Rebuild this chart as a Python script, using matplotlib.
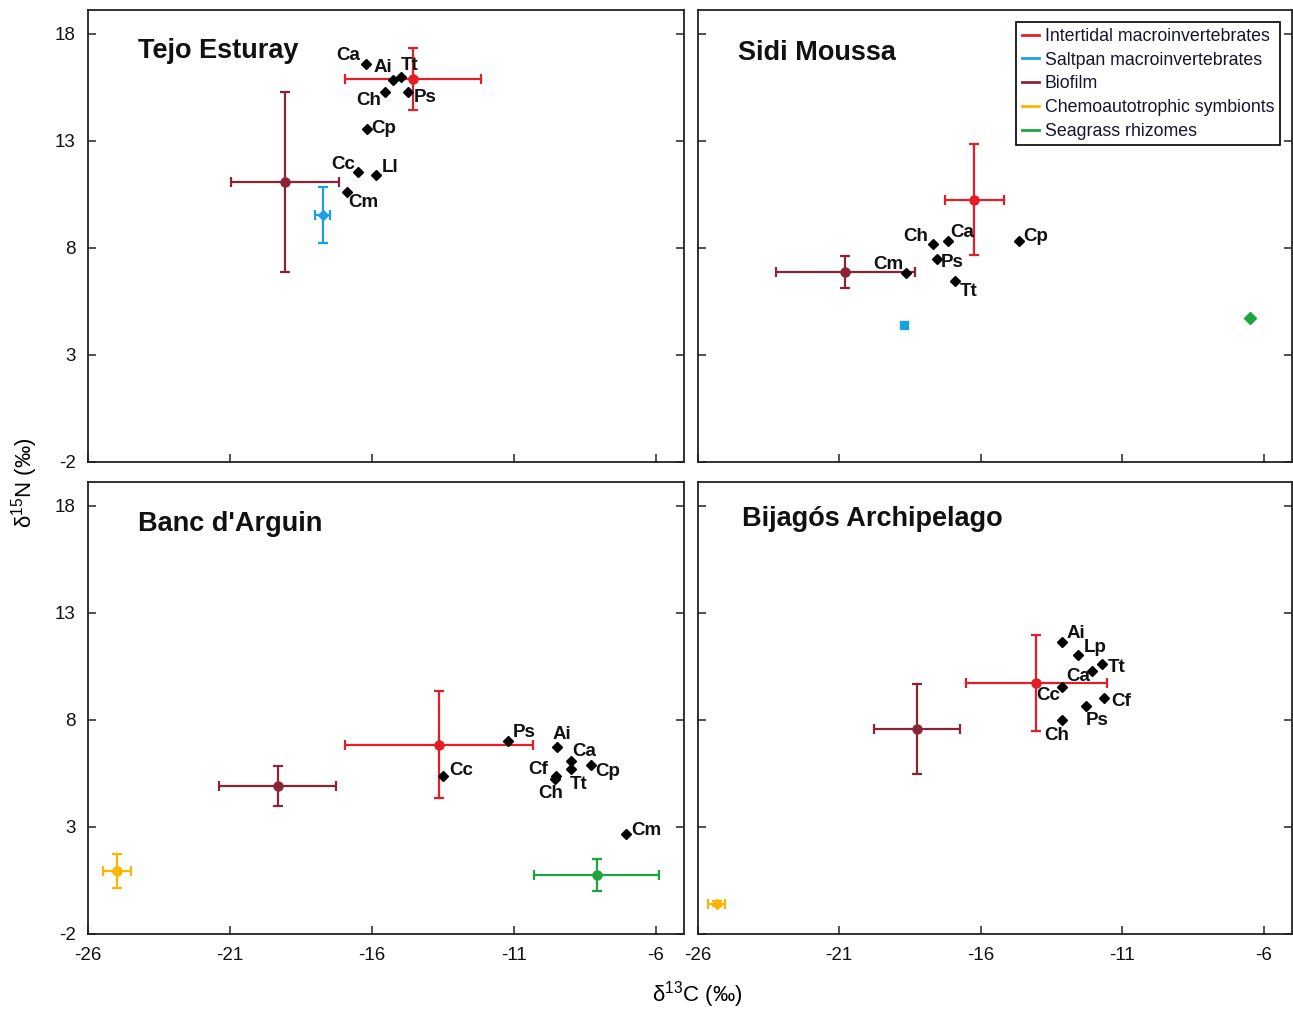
import matplotlib
matplotlib.use('Agg')
import matplotlib.pyplot as plt
import numpy as np
from matplotlib.lines import Line2D

plt.rcParams['font.family'] = ['Liberation Sans', 'DejaVu Sans']
plt.rcParams['mathtext.fontset'] = 'custom'
plt.rcParams['mathtext.rm'] = 'Liberation Sans'
plt.rcParams['mathtext.it'] = 'Liberation Sans:italic'
plt.rcParams['mathtext.bf'] = 'Liberation Sans:bold'

# ---------------- data ----------------
groups = ['Intertidal macroinvertebrates', 'Saltpan macroinvertebrates', 'Biofilm',
          'Chemoautotrophic symbionts', 'Seagrass rhizomes']
group_colors = ['#e41e26', '#1ba1e2', '#8b2535', '#ffb400', '#1ea43c']

sites = ['Tejo Esturay', 'Sidi Moussa', "Banc d'Arguin", 'Bijagós Archipelago']

# group means and SD (nan = absent) in order of `groups`
tejo_gc = [-14.55, -17.73, -19.07, np.nan, np.nan]
tejo_gc_sd = [2.4, 0.27, 1.9, 0, 0]
tejo_gn = [15.88, 9.54, 11.08, np.nan, np.nan]
tejo_gn_sd = [1.45, 1.3, 4.2, 0, 0]

sidi_gc = [-16.22, -18.72, -20.78, np.nan, -6.48]
sidi_gc_sd = [1.03, 0, 2.47, 0, 0]
sidi_gn = [10.24, 4.39, 6.85, np.nan, 4.73]
sidi_gn_sd = [2.6, 0, 0.75, 0, 0]

banc_gc = [-13.63, np.nan, -19.32, -24.98, -8.08]
banc_gc_sd = [3.3, 0, 2.07, 0.5, 2.2]
banc_gn = [6.83, np.nan, 4.92, 0.94, 0.76]
banc_gn_sd = [2.5, 0, 0.93, 0.8, 0.75]

bija_gc = [-14.03, np.nan, -18.26, -25.32, np.nan]
bija_gc_sd = [2.48, 0, 1.52, 0.3, 0]
bija_gn = [9.73, np.nan, 7.58, -0.59, np.nan]
bija_gn_sd = [2.25, 0, 2.1, 0.12, 0]

# species (black diamonds)
tejo_sp = ['Ca', 'Ai', 'Tt', 'Ch', 'Ps', 'Cp', 'Cc', 'Ll', 'Cm']
tejo_c = [-16.19, -15.27, -14.98, -15.52, -14.73, -16.17, -16.49, -15.86, -16.86]
tejo_n = [16.58, 15.84, 15.99, 15.26, 15.26, 13.56, 11.52, 11.41, 10.62]

sidi_sp = ['Ch', 'Ca', 'Cp', 'Ps', 'Cm', 'Tt']
sidi_c = [-17.70, -17.16, -14.63, -17.55, -18.63, -16.90]
sidi_n = [8.17, 8.33, 8.33, 7.47, 6.80, 6.46]

banc_sp = ['Ps', 'Cc', 'Ai', 'Ca', 'Tt', 'Cp', 'Cf', 'Ch', 'Cm']
banc_c = [-11.21, -13.48, -9.49, -8.97, -8.97, -8.27, -9.52, -9.56, -7.05]
banc_n = [7.00, 5.38, 6.74, 6.08, 5.72, 5.91, 5.38, 5.22, 2.69]

bija_sp = ['Ai', 'Lp', 'Tt', 'Ca', 'Cc', 'Cf', 'Ps', 'Ch']
bija_c = [-13.14, -12.57, -11.71, -12.07, -13.13, -11.63, -12.28, -13.13]
bija_n = [11.64, 11.02, 10.60, 10.28, 9.54, 9.04, 8.64, 8.01]

x_ticks = [-26, -21, -16, -11, -6]
y_ticks = [-2, 3, 8, 13, 18]

# ---------------- styling / layout ----------------
# label offsets in pixels (dx right, dy down)
tejo_off = [(-18, -8), (-10, -12), (9, -11), (-17, 8), (17, 5), (17, 0), (-15, -8), (14, -7), (16, 11)]
sidi_off = [(-17, -8), (14, -8), (16, -4), (15, 3), (-18, -9), (13, 11)]
banc_off = [(16, -9), (18, -5), (5, -12), (13, -9), (7, 16), (16, 7), (-18, -6), (-4, 14), (20, -3)]
bija_off = [(14, -8), (17, -8), (15, 3), (-14, 6), (-14, 9), (17, 4), (11, 14), (-5, 16)]

site_markers = [
    ['o', 'D', 'o', 'o', 'o'],
    ['o', 's', 'o', 'o', 'D'],
    ['o', 'o', 'o', 'o', 'o'],
    ['o', 'o', 'o', 'D', 'o'],
]
title_pos = [(0.084, 0.91), (0.068, 0.905), (0.084, 0.907), (0.075, 0.918)]

W, H = 1293, 1010
fig = plt.figure(figsize=(W / 100, H / 100), dpi=100)
rects = [
    (88 / W, 1 - 462 / H, 596 / W, 452 / H),
    (697.7 / W, 1 - 462 / H, 594.3 / W, 452 / H),
    (88 / W, 1 - 934 / H, 596 / W, 452 / H),
    (697.7 / W, 1 - 934 / H, 594.3 / W, 452 / H),
]

site_groups = [
    (tejo_gc, tejo_gc_sd, tejo_gn, tejo_gn_sd, tejo_sp, tejo_c, tejo_n, tejo_off),
    (sidi_gc, sidi_gc_sd, sidi_gn, sidi_gn_sd, sidi_sp, sidi_c, sidi_n, sidi_off),
    (banc_gc, banc_gc_sd, banc_gn, banc_gn_sd, banc_sp, banc_c, banc_n, banc_off),
    (bija_gc, bija_gc_sd, bija_gn, bija_gn_sd, bija_sp, bija_c, bija_n, bija_off),
]

axes = []
for i, (rect, site) in enumerate(zip(rects, sites)):
    ax = fig.add_axes(rect)
    axes.append(ax)
    gc, gcs, gn, gns, sp, sc, sn, off = site_groups[i]
    ax.set_xlim(-26, -5)
    ax.set_ylim(-2, 19.1)
    for g in range(len(groups)):
        if np.isnan(gc[g]):
            continue
        col = group_colors[g]
        mk = site_markers[i][g]
        if gcs[g] == 0 and gns[g] == 0:
            ax.plot(gc[g], gn[g], marker=mk, color=col, ms=6, ls='none', zorder=3)
        else:
            ax.errorbar(gc[g], gn[g], xerr=gcs[g], yerr=gns[g], fmt=mk, color=col,
                        ms=6.5 if mk == 'o' else 5.5, elinewidth=1.6, capsize=3.8,
                        capthick=1.6, zorder=3)
    ax.plot(sc, sn, ls='none', marker='D', ms=5, color='black', zorder=4)
    for name, x, y, (dx, dy) in zip(sp, sc, sn, off):
        ax.annotate(name, (x, y), xytext=(dx, -dy), textcoords='offset pixels',
                    ha='center', va='center', fontsize=13.5, fontweight='bold',
                    color='#111111', zorder=5)
    tx, ty = title_pos[i]
    ax.text(tx, ty, site, transform=ax.transAxes, fontsize=19.5, fontweight='bold',
            ha='left', va='center', color='#111111')

    ax.set_xticks(x_ticks)
    ax.set_yticks(y_ticks)
    ax.tick_params(direction='in', length=6, width=1.1, left=True, right=True,
                   bottom=True, top=False, colors='#222222', pad=9)
    for s in ax.spines.values():
        s.set_linewidth(1.3)
        s.set_color('#222222')
    if i in (0, 2):
        ax.set_yticklabels([str(t) for t in y_ticks], fontsize=13.5, color='#111111')
    else:
        ax.set_yticklabels([])
    if i in (2, 3):
        ax.set_xticklabels([str(t) for t in x_ticks], fontsize=13.5, color='#111111')
    else:
        ax.set_xticklabels([])

handles = [Line2D([], [], color=c, lw=2) for c in group_colors]
leg = axes[1].legend(handles, groups, loc='upper right', fontsize=12.8, frameon=True,
                     fancybox=False, framealpha=1, edgecolor='black',
                     handlelength=0.95, handletextpad=0.35, labelspacing=0.38,
                     borderpad=0.3, borderaxespad=0.7)
leg.get_frame().set_linewidth(1.2)
for t in leg.get_texts():
    t.set_color('#151530')

fig.text(697 / W, 1 - 995 / H, r'$\mathregular{\delta^{13}C\ (‰)}$', ha='center', va='center',
         fontsize=16)
fig.text(25 / W, 1 - 483 / H, r'$\mathregular{\delta^{15}N\ (‰)}$', ha='center', va='center',
         fontsize=16, rotation=90)

fig.savefig('out.png', dpi=100)
